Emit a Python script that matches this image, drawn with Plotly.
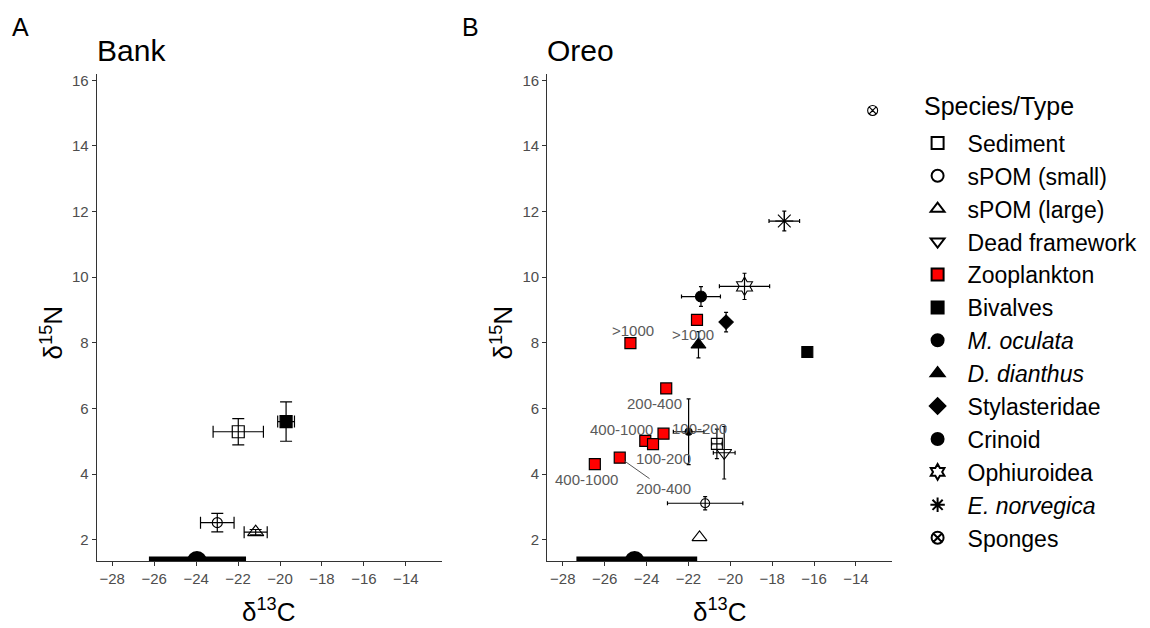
import plotly.graph_objects as go

# ---------------- data ----------------
legend_order = ["Sediment", "sPOM (small)", "sPOM (large)", "Dead framework", "Zooplankton",
                "Bivalves", "M. oculata", "D. dianthus", "Stylasteridae", "Crinoid",
                "Ophiuroidea", "E. norvegica", "Sponges"]

# Panel A: Bank
bank_species = ["Sediment", "sPOM (small)", "sPOM (large)", "Bivalves"]
bank_x = [-21.99, -22.99, -21.16, -19.71]
bank_y = [5.29, 2.52, 2.23, 5.60]
bank_xerr = [1.20, 0.80, 0.55, 0.40]
bank_yerr = [0.40, 0.28, 0.08, 0.60]

# Panel B: Oreo
oreo_species = ["Sediment", "sPOM (small)", "sPOM (large)", "Dead framework", "Bivalves",
                "M. oculata", "D. dianthus", "Stylasteridae", "Crinoid", "Ophiuroidea",
                "E. norvegica", "Sponges"]
oreo_x = [-20.64, -21.20, -21.47, -20.29, -16.32, -21.40, -21.52, -20.20, -21.99, -19.32, -17.42, -13.20]
oreo_y = [4.92, 3.11, 2.07, 4.65, 7.72, 9.41, 7.94, 8.63, 5.29, 9.72, 11.71, 15.08]
oreo_xerr = [0.25, 1.80, 0.00, 0.52, 0.00, 0.93, 0.00, 0.10, 0.73, 1.20, 0.73, 0.00]
oreo_yerr = [0.45, 0.20, 0.00, 0.80, 0.00, 0.30, 0.40, 0.30, 1.00, 0.40, 0.30, 0.00]

# Zooplankton size fractions (Oreo)
zoo_x = [-24.77, -21.59, -23.06, -23.19, -24.06, -23.69, -25.28, -26.47]
zoo_y = [7.99, 8.70, 6.61, 5.23, 5.01, 4.91, 4.50, 4.30]
zoo_labels = [">1000", ">1000", "200-400", "100-200", "400-1000", "100-200", "200-400", "400-1000"]

# baseline range bar (mean and range of δ13C) drawn on the x axis
base_center = [-23.96, -24.57]   # Bank, Oreo
base_min = [-26.25, -27.35]
base_max = [-21.62, -21.58]
base_y = 1.41

x_ticks = [-28, -26, -24, -22, -20, -18, -16, -14]
y_ticks = [2, 4, 6, 8, 10, 12, 14, 16]

# ---------------- styles ----------------
styles = {
    "Sediment": dict(symbol="square-open", color="black", size=11),
    "sPOM (small)": dict(symbol="circle-open", color="black", size=9),
    "sPOM (large)": dict(symbol="triangle-up-open", color="black", size=13),
    "Dead framework": dict(symbol="triangle-down-open", color="black", size=13),
    "Zooplankton": dict(symbol="square", color="#ff0000", size=11),
    "Bivalves": dict(symbol="square", color="black", size=11),
    "M. oculata": dict(symbol="circle", color="black", size=11),
    "D. dianthus": dict(symbol="triangle-up", color="black", size=13),
    "Stylasteridae": dict(symbol="diamond", color="black", size=11),
    "Crinoid": dict(symbol="circle", color="black", size=7),
    "Ophiuroidea": dict(symbol="hexagram-open", color="black", size=14),
    "E. norvegica": dict(symbol="asterisk-open", color="black", size=15),
    "Sponges": dict(symbol="circle-x-open", color="black", size=10),
}
italic = {"M. oculata", "D. dianthus", "E. norvegica"}

FONT = "Liberation Sans, Arial, sans-serif"
fig = go.Figure()


def err(v, w):
    return dict(type="data", array=[v], visible=v > 0, color="black", thickness=1.2, width=w)


# Bank traces (no legend)
for i, sp in enumerate(bank_species):
    st = styles[sp]
    fig.add_trace(go.Scatter(
        x=[bank_x[i]], y=[bank_y[i]], mode="markers", xaxis="x", yaxis="y",
        marker=dict(symbol=st["symbol"], color=st["color"], size=st["size"] + 1,
                    line=dict(color="black", width=1.2)),
        error_x=err(bank_xerr[i], 6), error_y=err(bank_yerr[i], 6),
        showlegend=False, name=sp))

# Oreo traces (legend)
for k, sp in enumerate(legend_order):
    st = styles[sp]
    label = f"<i>{sp}</i>" if sp in italic else sp
    if sp == "Zooplankton":
        fig.add_trace(go.Scatter(
            x=zoo_x, y=zoo_y, mode="markers", xaxis="x2", yaxis="y2",
            marker=dict(symbol="square", color="#ff0000", size=11, line=dict(color="black", width=1.2)),
            name=label, legendrank=k + 1))
        continue
    i = oreo_species.index(sp)
    fig.add_trace(go.Scatter(
        x=[oreo_x[i]], y=[oreo_y[i]], mode="markers", xaxis="x2", yaxis="y2",
        marker=dict(symbol=st["symbol"], color=st["color"], size=st["size"],
                    line=dict(color="black", width=1.1)),
        error_x=err(oreo_xerr[i], 2), error_y=err(oreo_yerr[i], 2),
        name=label, legendrank=k + 1))

# baseline bars
for p, (xa, ya) in enumerate([("x", "y"), ("x2", "y2")]):
    fig.add_trace(go.Scatter(x=[base_min[p], base_max[p]], y=[base_y, base_y], mode="lines",
                             line=dict(color="black", width=5), xaxis=xa, yaxis=ya,
                             showlegend=False, hoverinfo="skip"))
    fig.add_trace(go.Scatter(x=[base_center[p]], y=[1.35], mode="markers",
                             marker=dict(symbol="circle", color="black", size=20),
                             xaxis=xa, yaxis=ya, showlegend=False, hoverinfo="skip"))

# zooplankton labels
label_offsets = [(3, 13), (-4, -15), (-12, -15), (36, 5), (-24, 11), (10, -14), None, (-8, -15)]
for j, txt in enumerate(zoo_labels):
    off = label_offsets[j]
    if off is None:
        fig.add_annotation(x=zoo_x[j], y=zoo_y[j], xref="x2", yref="y2", text=txt,
                           showarrow=True, arrowhead=0, arrowwidth=1, arrowcolor="#555555",
                           ax=44, ay=31, standoff=5,
                           font=dict(family=FONT, size=15, color="#5a5a5a"))
    else:
        fig.add_annotation(x=zoo_x[j], y=zoo_y[j], xref="x2", yref="y2", text=txt,
                           showarrow=False, xshift=off[0], yshift=off[1],
                           font=dict(family=FONT, size=15, color="#5a5a5a"))

# axes
xr = [-28.74, -12.29]
yr = [1.35, 16.18]
ydom = [1 - 560.7 / 628, 1 - 71.7 / 628]
common_x = dict(range=xr, tickvals=x_ticks, ticks="outside", ticklen=4, tickcolor="#333333",
                showline=True, linecolor="#333333", linewidth=1.2, showgrid=False, zeroline=False,
                tickfont=dict(family=FONT, size=15, color="#4d4d4d"))
common_y = dict(range=yr, tickvals=y_ticks, ticks="outside", ticklen=4, tickcolor="#333333",
                showline=True, linecolor="#333333", linewidth=1.2, showgrid=False, zeroline=False,
                tickfont=dict(family=FONT, size=15, color="#4d4d4d"))

fig.update_layout(
    width=1150, height=628,
    paper_bgcolor="white", plot_bgcolor="white",
    margin=dict(l=0, r=0, t=0, b=0),
    xaxis=dict(domain=[96.7 / 1150, 441.7 / 1150], anchor="y", **common_x),
    yaxis=dict(domain=ydom, anchor="x", **common_y),
    xaxis2=dict(domain=[547.3 / 1150, 891.7 / 1150], anchor="y2", **common_x),
    yaxis2=dict(domain=ydom, anchor="x2", **common_y),
    legend=dict(x=907.6 / 1150, y=1 - 119 / 628, xanchor="left", yanchor="top",
                font=dict(family=FONT, size=23, color="black"),
                itemsizing="constant", tracegroupgap=0, itemwidth=50,
                bgcolor="rgba(0,0,0,0)"),
    font=dict(family=FONT),
)

# titles and axis labels as annotations
ann_font = dict(family=FONT, color="black")
fig.add_annotation(x=922 / 1150, y=1 - 103 / 628, xref="paper", yref="paper", text="Species/Type",
                   showarrow=False, xanchor="left", yanchor="middle", font=dict(size=25, **ann_font))
fig.add_annotation(x=10 / 1150, y=1 - 24 / 628, xref="paper", yref="paper", text="A", showarrow=False,
                   xanchor="left", yanchor="middle", font=dict(size=25, **ann_font))
fig.add_annotation(x=460 / 1150, y=1 - 24 / 628, xref="paper", yref="paper", text="B", showarrow=False,
                   xanchor="left", yanchor="middle", font=dict(size=25, **ann_font))
fig.add_annotation(x=95 / 1150, y=1 - 48 / 628, xref="paper", yref="paper", text="Bank", showarrow=False,
                   xanchor="left", yanchor="middle", font=dict(size=30, **ann_font))
fig.add_annotation(x=545 / 1150, y=1 - 48 / 628, xref="paper", yref="paper", text="Oreo", showarrow=False,
                   xanchor="left", yanchor="middle", font=dict(size=30, **ann_font))
for cx in (269.2, 719.5):
    fig.add_annotation(x=cx / 1150, y=1 - 610 / 628, xref="paper", yref="paper",
                       text="δ<sup>13</sup>C", showarrow=False, xanchor="center", yanchor="middle",
                       font=dict(size=26, **ann_font))
for cx in (52, 502):
    fig.add_annotation(x=cx / 1150, y=1 - 331 / 628, xref="paper", yref="paper",
                       text="δ<sup>15</sup>N", showarrow=False, textangle=-90,
                       xanchor="center", yanchor="middle", font=dict(size=26, **ann_font))

fig.write_html("out.html", config={"displayModeBar": False},
               post_script="document.body.style.margin='0';document.body.style.padding='0';")
